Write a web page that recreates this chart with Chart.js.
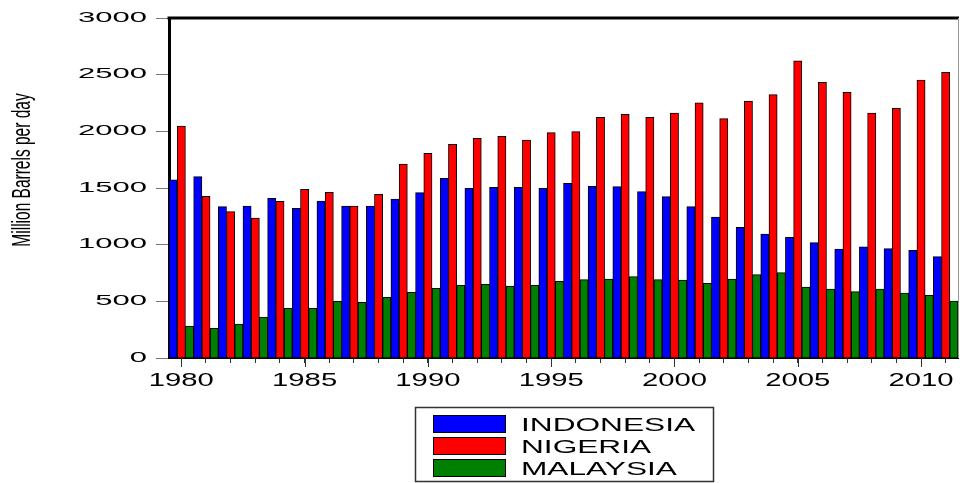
<!DOCTYPE html>
<html><head><meta charset="utf-8">
<script src="https://cdn.jsdelivr.net/npm/chart.js@4.4.0/dist/chart.umd.min.js"></script>
<style>html,body{margin:0;padding:0;background:#fff;overflow:hidden}</style>
</head><body>
<canvas id="c" width="960" height="483"></canvas>
<script>
const years = ['1980','1981','1982','1983','1984','1985','1986','1987','1988','1989','1990','1991','1992','1993','1994','1995','1996','1997','1998','1999','2000','2001','2002','2003','2004','2005','2006','2007','2008','2009','2010','2011'];
const indonesia = [1571,1600,1335,1341,1409,1321,1385,1341,1341,1403,1459,1585,1497,1506,1506,1497,1541,1515,1512,1468,1424,1335,1244,1153,1094,1065,1018,962,982,965,950,894];
const nigeria = [2047,1426,1291,1235,1382,1488,1462,1341,1444,1712,1806,1885,1938,1956,1923,1988,1997,2124,2150,2124,2162,2252,2112,2268,2324,2621,2432,2344,2162,2203,2453,2521];
const malaysia = [282,262,300,362,438,438,500,491,535,580,615,641,650,635,641,676,691,697,718,691,688,659,697,735,753,626,609,585,609,573,553,503];
const seriesNames = ['INDONESIA','NIGERIA','MALAYSIA'];
const seriesColors = ['#0000FF','#FF0000','#008000'];
const yTickLabels = ['0','500','1000','1500','2000','2500','3000'];
const xLabelYears = ['1980','1985','1990','1995','2000','2005','2010'];
const axisTitle = 'Million Barrels per day';

function stretch(ctx, text, x, y, sx){
  ctx.save(); ctx.translate(x, y); ctx.scale(sx, 1); ctx.fillText(text, 0, 0); ctx.restore();
}

const deco = {
  id: 'deco',
  afterDraw(chart){
    const ctx = chart.ctx, a = chart.chartArea, xs = chart.scales.x, ys = chart.scales.y;
    ctx.save();
    // top frame
    ctx.strokeStyle = '#000'; ctx.lineWidth = 3;
    ctx.beginPath(); ctx.moveTo(a.left - 1.5, a.top); ctx.lineTo(a.right + 1, a.top); ctx.stroke();
    // right frame
    ctx.strokeStyle = '#999'; ctx.lineWidth = 1;
    ctx.beginPath(); ctx.moveTo(a.right + 0.5, a.top); ctx.lineTo(a.right + 0.5, a.bottom); ctx.stroke();
    // major x ticks
    ctx.strokeStyle = '#333'; ctx.lineWidth = 1;
    years.forEach((yr, i) => {
      if (xLabelYears.includes(yr)) {
        const px = Math.round(xs.getPixelForValue(i)) + 0.5;
        ctx.beginPath(); ctx.moveTo(px, a.bottom); ctx.lineTo(px, a.bottom + 9); ctx.stroke();
      }
    });
    ctx.fillStyle = '#000';
    // y labels
    ctx.font = '15.5px "Liberation Sans", Arial, sans-serif';
    ctx.textAlign = 'right'; ctx.textBaseline = 'alphabetic';
    yTickLabels.forEach(lbl => {
      const py = ys.getPixelForValue(Number(lbl));
      stretch(ctx, lbl, 147, py + 3.5, 2.0);
    });
    // x labels
    ctx.font = '19px "Liberation Sans", Arial, sans-serif';
    ctx.textAlign = 'center';
    years.forEach((yr, i) => {
      if (xLabelYears.includes(yr)) {
        stretch(ctx, yr, xs.getPixelForValue(i), 386, 1.54);
      }
    });
    // axis title
    ctx.save();
    ctx.translate(30, 170); ctx.rotate(-Math.PI / 2);
    ctx.font = '25px "Liberation Sans", Arial, sans-serif';
    ctx.textAlign = 'center'; ctx.textBaseline = 'alphabetic';
    ctx.scale(0.62, 1);
    ctx.fillText(axisTitle, 0, 0);
    ctx.restore();
    // legend
    ctx.strokeStyle = '#333'; ctx.lineWidth = 1.5;
    ctx.strokeRect(415.5, 407.5, 298, 74);
    chart.data.datasets.forEach((ds, k) => {
      const top = 415 + k * 22;
      ctx.fillStyle = ds.backgroundColor;
      ctx.fillRect(433, top, 73, 17);
      ctx.strokeStyle = '#000'; ctx.lineWidth = 1;
      ctx.strokeRect(433.5, top + 0.5, 72, 17);
      ctx.fillStyle = '#000';
      ctx.font = '18.5px "Liberation Sans", Arial, sans-serif';
      ctx.textAlign = 'left';
      stretch(ctx, ds.label, 521, top + 16, 1.71);
    });
    ctx.restore();
  }
};

new Chart(document.getElementById('c'), {
  type: 'bar',
  data: {
    labels: years,
    datasets: [
      { label: seriesNames[0], data: indonesia, backgroundColor: seriesColors[0] },
      { label: seriesNames[1], data: nigeria, backgroundColor: seriesColors[1] },
      { label: seriesNames[2], data: malaysia, backgroundColor: seriesColors[2] }
    ]
  },
  options: {
    responsive: false,
    animation: false,
    devicePixelRatio: 1,
    datasets: { bar: { categoryPercentage: 1.0, barPercentage: 1.0, borderColor: '#000', borderWidth: 1 } },
    layout: { padding: { left: 0, top: 18, right: 2, bottom: 0 } },
    plugins: { legend: { display: false }, tooltip: { enabled: false } },
    scales: {
      x: {
        offset: true,
        grid: { display: true, offset: false, drawOnChartArea: false, drawTicks: true, tickLength: 5, color: '#333', tickColor: '#333' },
        border: { display: true, color: '#000', width: 2 },
        ticks: { display: false },
        afterFit: s => { s.height = 125; }
      },
      y: {
        min: 0, max: 3000,
        ticks: { display: false, stepSize: 500 },
        grid: { display: true, drawOnChartArea: false, drawTicks: true, tickLength: 13, color: '#777', tickColor: '#777' },
        border: { display: true, color: '#000', width: 3 },
        afterFit: s => { s.width = 169; }
      }
    }
  },
  plugins: [deco]
});
</script>
</body></html>
